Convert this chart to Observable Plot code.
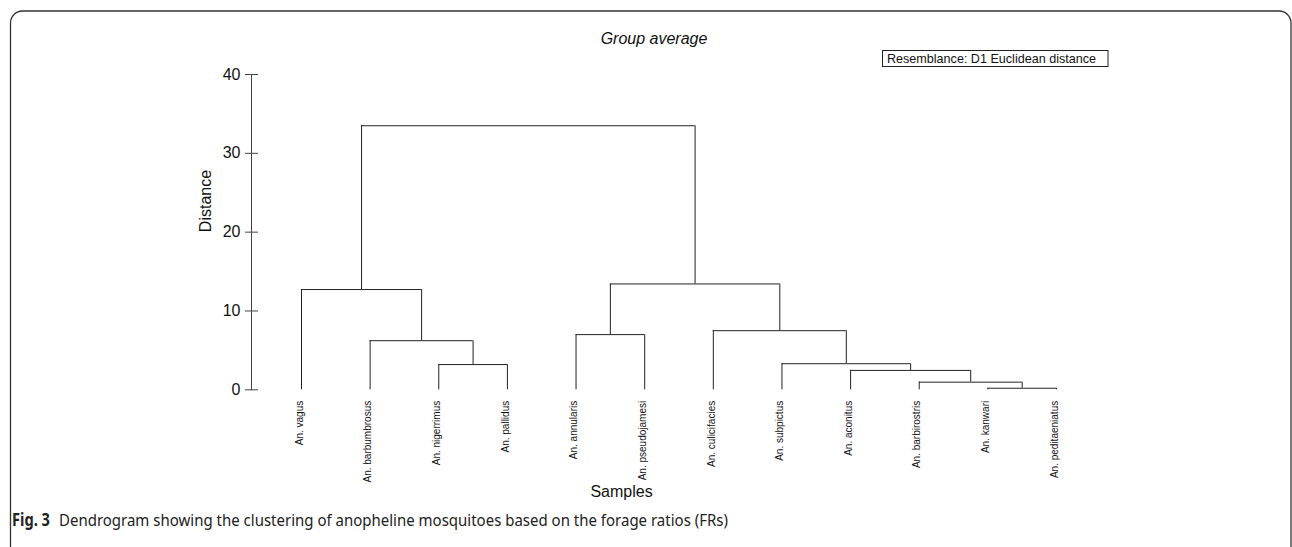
<!DOCTYPE html>
<html>
<head>
<meta charset="utf-8">
<script src="https://cdn.jsdelivr.net/npm/d3@7"></script>
<script src="https://cdn.jsdelivr.net/npm/@observablehq/plot@0.6"></script>
<style>
  html, body { margin: 0; padding: 0; background: #fff; }
  #wrap { position: relative; width: 1292px; height: 547px; overflow: hidden; background: #fff; }
  #wrap > svg { position: absolute; left: 0; top: 0; }
</style>
</head>
<body>
<div id="wrap"></div>
<script>
// ---- data ----
const leaves = [
  "An. vagus", "An. barbumbrosus", "An. nigerrimus", "An. pallidus",
  "An. annularis", "An. pseudojamesi", "An. culicifacies", "An. subpictus",
  "An. aconitus", "An. barbirostris", "An. kanwari", "An. peditaeniatus"
];
// merge i creates node (leaves.length + i); children refer to leaf or node index
const mergeA = [10, 9, 8, 2, 7, 1, 4, 6, 0, 18, 20];
const mergeB = [11, 12, 13, 3, 14, 15, 5, 16, 17, 19, 21];
const mergeHeight = [0.2, 0.97, 2.46, 3.2, 3.31, 6.23, 7.0, 7.5, 12.72, 13.43, 33.5];
const yTicks = [0, 10, 20, 30, 40];
const titleText = "Group average";
const legendText = "Resemblance: D1 Euclidean distance";
const xLabel = "Samples";
const yLabel = "Distance";
const captionBold = "Fig. 3";
const captionText = "Dendrogram showing the clustering of anopheline mosquitoes based on the forage ratios (FRs)";

// ---- build dendrogram segments ----
const nodeX = leaves.map((d, i) => i);
const nodeH = leaves.map(() => 0);
const hSegs = [], vSegs = [];
mergeA.forEach((a, i) => {
  const b = mergeB[i], h = mergeHeight[i];
  hSegs.push({x1: nodeX[a], x2: nodeX[b], y: h});
  vSegs.push({x: nodeX[a], y1: nodeH[a], y2: h});
  vSegs.push({x: nodeX[b], y1: nodeH[b], y2: h});
  nodeX.push((nodeX[a] + nodeX[b]) / 2);
  nodeH.push(h);
});

const W = 1292, H = 547;
const wrap = document.getElementById("wrap");

// ---- background decorations: frame, title, legend, caption ----
const bg = d3.create("svg").attr("width", W).attr("height", H)
  .style("font-family", "'Liberation Sans', Arial, sans-serif");
bg.append("rect").attr("x", 10.5).attr("y", 11).attr("width", 1280.5).attr("height", 560)
  .attr("rx", 12).attr("fill", "none").attr("stroke", "#333").attr("stroke-width", 1.3);
bg.append("text").attr("x", 654).attr("y", 44).attr("text-anchor", "middle")
  .attr("font-size", 16).attr("font-style", "italic").attr("fill", "#111").text(titleText);
bg.append("rect").attr("x", 882.5).attr("y", 50.5).attr("width", 225.5).attr("height", 16)
  .attr("fill", "none").attr("stroke", "#222").attr("stroke-width", 1);
bg.append("text").attr("x", 887).attr("y", 63).attr("font-size", 13).attr("fill", "#111")
  .attr("textLength", 209).attr("lengthAdjust", "spacingAndGlyphs").text(legendText);
bg.append("text").attr("x", 12).attr("y", 526)
  .attr("font-family", "'Noto Sans', 'Open Sans', sans-serif").attr("font-size", 17)
  .attr("font-weight", "bold").attr("fill", "#222")
  .attr("textLength", 38).attr("lengthAdjust", "spacingAndGlyphs").text(captionBold);
bg.append("text").attr("x", 59).attr("y", 526)
  .attr("font-family", "'Noto Sans', 'Open Sans', sans-serif").attr("font-size", 17).attr("fill", "#222")
  .attr("textLength", 669).attr("lengthAdjust", "spacingAndGlyphs").text(captionText);
wrap.appendChild(bg.node());

// ---- the plot ----
const y0 = 389.3, y40 = 74, PH = 510;
const chart = Plot.plot({
  width: W,
  height: PH,
  marginLeft: 251,
  marginRight: 301,
  marginTop: y40,
  marginBottom: PH - y0,
  style: {fontFamily: "'Liberation Sans', Arial, sans-serif", background: "transparent", color: "#111"},
  x: {domain: [0, leaves.length - 1], range: [301, 1056], axis: null},
  y: {domain: [0, 40], axis: null},
  marks: [
    Plot.frame({anchor: "left", stroke: "#444", strokeWidth: 1}),
    Plot.axisY(yTicks, {tickSize: 13, dx: 7, tickPadding: 5, fontSize: 16, stroke: "#444", label: null}),
    Plot.text([yLabel], {frameAnchor: "left", dx: -46, rotate: -90, fontSize: 16, text: d => d, fill: "#111"}),
    Plot.text([xLabel], {frameAnchor: "bottom", dy: 107, fontSize: 16, text: d => d, fill: "#111"}),
    Plot.ruleY(hSegs, {x1: "x1", x2: "x2", y: "y", stroke: "#222", strokeWidth: 1}),
    Plot.ruleX(vSegs, {x: "x", y1: "y1", y2: "y2", stroke: "#222", strokeWidth: 1}),
    Plot.text(leaves, {x: (d, i) => i, y: () => 0, text: d => d, rotate: -90, textAnchor: "end",
      dy: 11, dx: -2, fontSize: 10, fill: "#111"})
  ]
});
wrap.appendChild(chart);
</script>
</body>
</html>
